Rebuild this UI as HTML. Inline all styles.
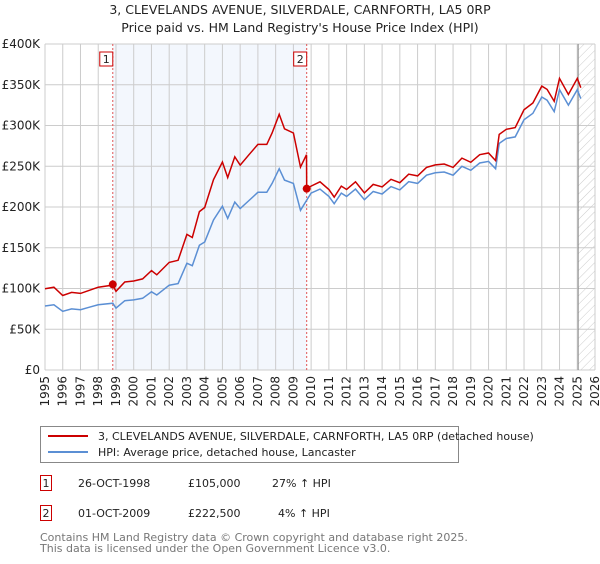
<!DOCTYPE html>
<html><head><meta charset="utf-8"><style>
body{margin:0;background:#fff;font-family:"DejaVu Sans","Liberation Sans",sans-serif;}
svg text{font-family:"DejaVu Sans","Liberation Sans",sans-serif;}
</style></head><body>
<svg id="c" width="600" height="560" viewBox="0 0 600 560" xmlns="http://www.w3.org/2000/svg">
<defs><pattern id="hatch" width="6" height="6" patternUnits="userSpaceOnUse" patternTransform="rotate(45)"><line x1="0" y1="0" x2="0" y2="6" stroke="#ccc" stroke-width="1"/></pattern></defs>
<text x="300" y="14" text-anchor="middle" font-size="12.5" fill="#222">3, CLEVELANDS AVENUE, SILVERDALE, CARNFORTH, LA5 0RP</text>
<text x="300" y="32" text-anchor="middle" font-size="12.5" fill="#222">Price paid vs. HM Land Registry's House Price Index (HPI)</text>
<g id="plot"></g>
<g>
<rect x="40.5" y="426.5" width="418" height="36" fill="#fff" stroke="#888"/>
<line x1="48" y1="436" x2="88" y2="436" stroke="#cc0000" stroke-width="2"/>
<text x="98" y="440" font-size="11" fill="#222">3, CLEVELANDS AVENUE, SILVERDALE, CARNFORTH, LA5 0RP (detached house)</text>
<line x1="48" y1="452" x2="88" y2="452" stroke="#5b8fd4" stroke-width="2"/>
<text x="98" y="456" font-size="11" fill="#222">HPI: Average price, detached house, Lancaster</text>
</g>
<g font-size="11" fill="#222">
<rect x="40.5" y="475.5" width="11" height="15" fill="none" stroke="#cc0000"/><text x="46" y="487" text-anchor="middle">1</text>
<text x="78" y="487">26-OCT-1998</text><text x="188" y="487">£105,000</text><text x="272" y="487">27% ↑ HPI</text>
<rect x="40.5" y="505.5" width="11" height="15" fill="none" stroke="#cc0000"/><text x="46" y="517" text-anchor="middle">2</text>
<text x="78" y="517">01-OCT-2009</text><text x="188" y="517">£222,500</text><text x="278" y="517">4% ↑ HPI</text>
</g>
<text x="40" y="541" font-size="11" fill="#777">Contains HM Land Registry data © Crown copyright and database right 2025.</text>
<text x="40" y="552" font-size="11" fill="#777">This data is licensed under the Open Government Licence v3.0.</text>
</svg>
<script>
const hpiYears=[1995,1995.5,1996,1996.5,1997,1997.5,1998,1998.82,1999,1999.5,2000,2000.5,2001,2001.3,2002,2002.5,2003,2003.3,2003.7,2004,2004.5,2005,2005.3,2005.7,2006,2006.5,2007,2007.5,2007.8,2008.2,2008.5,2009,2009.4,2009.74,2010,2010.5,2011,2011.3,2011.7,2012,2012.5,2013,2013.5,2014,2014.5,2015,2015.5,2016,2016.5,2017,2017.5,2018,2018.5,2019,2019.5,2020,2020.4,2020.6,2021,2021.5,2022,2022.5,2023,2023.3,2023.7,2024,2024.5,2025,2025.2];
const hpiValues=[78.5,80,72,75,74,77,80,82,76,85,86,88,96,92,104,106,131,128,153,157,184,201,186,206,198,208,218,218,229,247,233,229,196,208,217,222,213,204,217,213,222,209,219,216,225,221,231,229,239,242,243,239,250,245,254,256,247,278,284,286,307,315,335,331,317,344,325,344,333];
const saleYears=[1998.82,2009.75];
const salePrices=[105,222.5];
const salePremiums=[1.27,1.04];
const yTicks=[0,50,100,150,200,250,300,350,400];
const yTickLabels=["£0","£50K","£100K","£150K","£200K","£250K","£300K","£350K","£400K"];
const xTicks=[1995,1996,1997,1998,1999,2000,2001,2002,2003,2004,2005,2006,2007,2008,2009,2010,2011,2012,2013,2014,2015,2016,2017,2018,2019,2020,2021,2022,2023,2024,2025,2026];
const X0=45,X1=595,Y0=370,Y1=44,xMin=1995,xMax=2026,yMax=400;
const sx=v=>X0+(v-xMin)/(xMax-xMin)*(X1-X0);
const sy=v=>Y0-v/yMax*(Y0-Y1);
const NS="http://www.w3.org/2000/svg";
const g=document.getElementById('plot');
function mk(t,a,p){const e=document.createElementNS(NS,t);for(const k in a)e.setAttribute(k,a[k]);(p||g).appendChild(e);return e;}
let r=mk('rect',{x:sx(saleYears[0]),y:Y1,width:sx(saleYears[1])-sx(saleYears[0]),height:Y0-Y1,fill:'#eef3fc',opacity:0.7});


const endY=2025.05;
r=mk('rect',{x:sx(endY),y:Y1,width:X1-sx(endY),height:Y0-Y1,fill:'url(#hatch)'});


yTicks.forEach((v,i)=>{
 let l=mk('line',{x1:X0,x2:X1,y1:sy(v),y2:sy(v),stroke:'#ccc','stroke-width':1});
 
 
 let t=mk('text',{x:X0-5,y:sy(v)+4,'text-anchor':'end','font-size':12,fill:'#222'});
 t.textContent=yTickLabels[i];
 
 
});
xTicks.forEach(v=>{
 let l=mk('line',{x1:sx(v),x2:sx(v),y1:Y1,y2:Y0,stroke:'#ccc','stroke-width':1});
 
 
 let t=mk('text',{x:0,y:0,'text-anchor':'end','font-size':12,fill:'#222',transform:`translate(${sx(v)+4},376) rotate(-90)`});
 t.textContent=v;
 
 
});
let ln=mk('line',{x1:sx(endY),x2:sx(endY),y1:Y1,y2:Y0,stroke:'#888','stroke-width':1});


saleYears.forEach((v,i)=>{
 let l=mk('line',{x1:sx(v),x2:sx(v),y1:Y1,y2:Y0,stroke:'#e05555','stroke-width':1,'stroke-dasharray':'2,2'});
 
 
 let b=mk('rect',{x:sx(v)-13,y:52,width:13,height:14,fill:'#fff',stroke:'#cc0000'});
 
 
 let t=mk('text',{x:sx(v)-6.5,y:63,'text-anchor':'middle','font-size':11,fill:'#222'});
 t.textContent=String(i+1);
 
 
});
let d=hpiYears.map((y,i)=>(i?'L':'M')+sx(y).toFixed(1)+','+sy(hpiValues[i]).toFixed(1)).join('');
let p=mk('path',{d:d,fill:'none',stroke:'#5b8fd4','stroke-width':1.5});


let pts=[];
hpiYears.forEach((y,i)=>{const k=y<saleYears[1]?salePremiums[0]:salePremiums[1];pts.push([y,hpiValues[i]*k]);});
pts.push([saleYears[1],salePrices[1]]);
pts.sort((a,b)=>a[0]-b[0]);
d=pts.map((q,i)=>(i?'L':'M')+sx(q[0]).toFixed(1)+','+sy(q[1]).toFixed(1)).join('');
p=mk('path',{d:d,fill:'none',stroke:'#cc0000','stroke-width':1.5});


saleYears.forEach((v,i)=>{
 let c=mk('circle',{cx:sx(v),cy:sy(salePrices[i]),r:4,fill:'#cc0000'});
 
 
});
</script>
</body></html>
